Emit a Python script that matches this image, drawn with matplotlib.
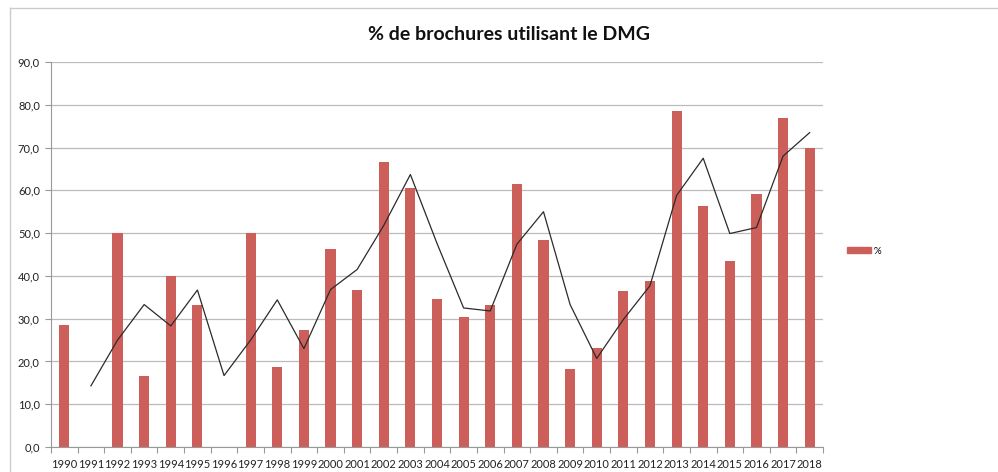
import matplotlib
matplotlib.use("Agg")
import matplotlib.pyplot as plt
from matplotlib.lines import Line2D
from matplotlib.patches import Patch

years = [str(y) for y in range(1990, 2019)]
pct = [28.6, 0, 50.0, 16.7, 40.0, 33.3, 0, 50.0, 18.75, 27.3, 46.2, 36.8, 66.7, 60.6,
       34.6, 30.3, 33.3, 61.5, 48.4, 18.2, 23.1, 36.4, 38.9, 78.6, 56.3, 43.5, 59.1, 76.9, 70.0]
# moving-average trend line (period 2), starting at 1991
trend = [None, 14.3, 25.0, 33.3, 28.3, 36.7, 16.7, 25.0, 34.4, 23.0, 36.8, 41.5, 51.8, 63.7,
         47.6, 32.5, 31.8, 47.4, 55.0, 33.3, 20.7, 29.8, 37.7, 58.8, 67.5, 49.9, 51.3, 68.0, 73.5]
yticks = [0, 10, 20, 30, 40, 50, 60, 70, 80, 90]

plt.rcParams['font.family'] = ['Lato', 'DejaVu Sans']

fig = plt.figure(figsize=(9.98, 4.72), dpi=100)
ax = fig.add_axes([51/998, 1-447/472, (823-51)/998, (447-62)/472])

x = list(range(len(years)))
bar_color = '#CD5F5A'
ax.bar(x, pct, width=0.38, color=bar_color, zorder=2, label='%')
tx = [i for i, v in zip(x, trend) if v is not None]
tv = [v for v in trend if v is not None]
ax.plot(tx, tv, color='#2b2b2b', lw=0.9, zorder=3)

ax.set_xlim(-0.5, len(years) - 0.5)
ax.set_ylim(0, 90)
ax.set_yticks(yticks)
ax.set_yticklabels([f"{v:.1f}".replace('.', ',') for v in yticks], fontsize=8, color='#222222')
ax.set_xticks(x)
ax.set_xticklabels(years, fontsize=8, color='#222222')
ax.set_xticks([i - 0.5 for i in range(len(years) + 1)], minor=True)
ax.tick_params(axis='x', which='major', length=0, pad=9)
ax.tick_params(axis='x', which='minor', length=4, color='#999999', width=0.8)
ax.tick_params(axis='y', length=4, color='#999999', width=0.8, pad=4)
ax.grid(axis='y', color='#BBBBBB', lw=0.9, zorder=0)
for s in ['top', 'right']:
    ax.spines[s].set_visible(False)
ax.spines['left'].set_color('#999999')
ax.spines['bottom'].set_color('#999999')
ax.spines['left'].set_linewidth(0.8)
ax.spines['bottom'].set_linewidth(0.8)

fig.text(509/998, 1-35/472, '% de brochures utilisant le DMG', ha='center', va='center',
         fontsize=14, fontweight='bold', color='#111111')

handles = [Patch(color=bar_color, label='%')]
fig.legend(handles=handles, loc='center left', bbox_to_anchor=(838/998, 1-251/472),
           frameon=False, fontsize=7, handlelength=2.5, handleheight=0.55, handletextpad=0.3)

# chart area border (extends beyond the image at right and bottom)
fig.add_artist(Line2D([10/998, 10/998], [0, 1-8/472], color='#CCCCCC', lw=1.0, transform=fig.transFigure))
fig.add_artist(Line2D([10/998, 1], [1-8/472, 1-8/472], color='#CCCCCC', lw=1.0, transform=fig.transFigure))

fig.savefig('out.png', dpi=100)
